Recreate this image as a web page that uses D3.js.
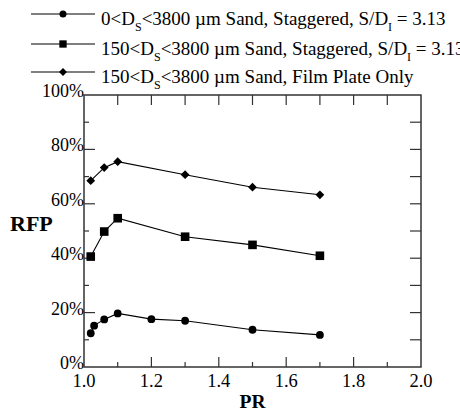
<!DOCTYPE html>
<html>
<head>
<meta charset="utf-8">
<script src="https://cdn.jsdelivr.net/npm/d3@7"></script>
<style>
  html, body { margin: 0; padding: 0; background: #fff; }
  svg { display: block; }
</style>
</head>
<body>
<svg id="chart" width="460" height="416"></svg>
<script>
// Pressure ratio values at which RFP was measured
const prSand0 = [1.02, 1.03, 1.06, 1.1, 1.2, 1.3, 1.5, 1.7];
const rfpSand0 = [12.4, 15.2, 17.5, 19.7, 17.6, 17.0, 13.7, 11.8];

const prSand150 = [1.02, 1.06, 1.1, 1.3, 1.5, 1.7];
const rfpSand150 = [40.6, 49.8, 54.7, 47.9, 44.9, 40.9];

const prFilm = [1.02, 1.06, 1.1, 1.3, 1.5, 1.7];
const rfpFilm = [68.5, 73.3, 75.5, 70.7, 66.1, 63.3];

const xTicks = [1.0, 1.2, 1.4, 1.6, 1.8, 2.0];
const yTicks = [0, 20, 40, 60, 80, 100];

const series = [
  { name: ["0<D", "S", "<3800 µm Sand, Staggered, S/D", "I", " = 3.13"], xs: prSand0, ys: rfpSand0, marker: "circle" },
  { name: ["150<D", "S", "<3800 µm Sand, Staggered, S/D", "I", " = 3.13"], xs: prSand150, ys: rfpSand150, marker: "square" },
  { name: ["150<D", "S", "<3800 µm Sand, Film Plate Only"], xs: prFilm, ys: rfpFilm, marker: "diamond" }
];

const FONT = "Liberation Serif";
const svg = d3.select("#chart");
const m = { left: 84, right: 421, top: 95, bottom: 367 };
const x = d3.scaleLinear().domain([1.0, 2.0]).range([m.left, m.right]);
const y = d3.scaleLinear().domain([0, 100]).range([m.bottom, m.top]);
const axisColor = "#333";

// Frame ticks (inward) on all four sides
const minorX = d3.range(1.1, 2.0, 0.2);
const minorY = d3.range(10, 100, 20);
const gT = svg.append("g").attr("stroke", axisColor).attr("stroke-width", 1.2);
xTicks.slice(1, -1).forEach(v => {
  gT.append("line").attr("x1", x(v)).attr("x2", x(v)).attr("y1", m.bottom).attr("y2", m.bottom - 10);
  gT.append("line").attr("x1", x(v)).attr("x2", x(v)).attr("y1", m.top).attr("y2", m.top + 10);
});
minorX.forEach(v => {
  gT.append("line").attr("x1", x(v)).attr("x2", x(v)).attr("y1", m.bottom).attr("y2", m.bottom - 5);
  gT.append("line").attr("x1", x(v)).attr("x2", x(v)).attr("y1", m.top).attr("y2", m.top + 10);
});
yTicks.slice(1, -1).forEach(v => {
  gT.append("line").attr("x1", m.left).attr("x2", m.left + 11).attr("y1", y(v)).attr("y2", y(v));
  gT.append("line").attr("x1", m.right).attr("x2", m.right - 11).attr("y1", y(v)).attr("y2", y(v));
});
minorY.forEach(v => {
  gT.append("line").attr("x1", m.left).attr("x2", m.left + 5).attr("y1", y(v)).attr("y2", y(v));
  gT.append("line").attr("x1", m.right).attr("x2", m.right - 11).attr("y1", y(v)).attr("y2", y(v));
});

svg.append("rect")
  .attr("x", m.left).attr("y", m.top)
  .attr("width", m.right - m.left).attr("height", m.bottom - m.top)
  .attr("fill", "none").attr("stroke", axisColor).attr("stroke-width", 1.5);

// Tick labels
svg.append("g").selectAll("text").data(xTicks).join("text")
  .attr("font-family", FONT)
  .attr("x", d => x(d)).attr("y", 387)
  .attr("text-anchor", "middle").attr("font-size", 18.5)
  .text(d => d.toFixed(1));
svg.append("g").selectAll("text").data(yTicks).join("text")
  .attr("font-family", FONT)
  .attr("x", m.left).attr("y", d => y(d) + 2)
  .attr("text-anchor", "end").attr("font-size", 18)
  .text(d => d + "%");

// Axis titles
svg.append("text").attr("font-family", FONT).attr("x", (m.left + m.right) / 2).attr("y", 408)
  .attr("text-anchor", "middle").attr("font-size", 19.5).attr("font-weight", "bold").text("PR");
svg.append("text").attr("font-family", FONT).attr("x", 10).attr("y", 231)
  .attr("font-size", 22).attr("font-weight", "bold").text("RFP");

// Marker drawing
function drawMarker(g, type, cx, cy, s) {
  if (type === "circle") {
    g.append("circle").attr("cx", cx).attr("cy", cy).attr("r", 3.9 * s).attr("fill", "#000");
  } else if (type === "square") {
    const h = 4.3 * s;
    g.append("rect").attr("x", cx - h).attr("y", cy - h).attr("width", 2 * h).attr("height", 2 * h).attr("fill", "#000");
  } else {
    const h = 4.4 * s;
    g.append("path").attr("d", `M${cx},${cy - h}L${cx + h},${cy}L${cx},${cy + h}L${cx - h},${cy}Z`).attr("fill", "#000");
  }
}

const line = d3.line().x(d => x(d[0])).y(d => y(d[1]));
series.forEach(s => {
  const pts = s.xs.map((v, i) => [v, s.ys[i]]);
  svg.append("path").datum(pts).attr("d", line)
    .attr("fill", "none").attr("stroke", "#000").attr("stroke-width", 1.1);
  const g = svg.append("g");
  pts.forEach(p => drawMarker(g, s.marker, x(p[0]), y(p[1]), 1));
});

// Legend
const legendRows = [14, 44, 72];
series.forEach((s, i) => {
  const ly = legendRows[i];
  svg.append("line").attr("x1", 31).attr("x2", 95).attr("y1", ly).attr("y2", ly)
    .attr("stroke", "#000").attr("stroke-width", 1.1);
  drawMarker(svg.append("g"), s.marker, 63, ly, s.marker === "square" ? 0.85 : 0.9);
  const t = svg.append("text").attr("font-family", FONT)
    .attr("x", 101).attr("y", ly + 11).attr("font-size", 19);
  s.name.forEach((part, k) => {
    const sub = k % 2 === 1;
    const ts = t.append("tspan").text(part);
    if (sub) ts.attr("font-size", 12).attr("dy", 6);
    else if (k > 0) ts.attr("dy", -6);
  });
});
</script>
</body>
</html>
